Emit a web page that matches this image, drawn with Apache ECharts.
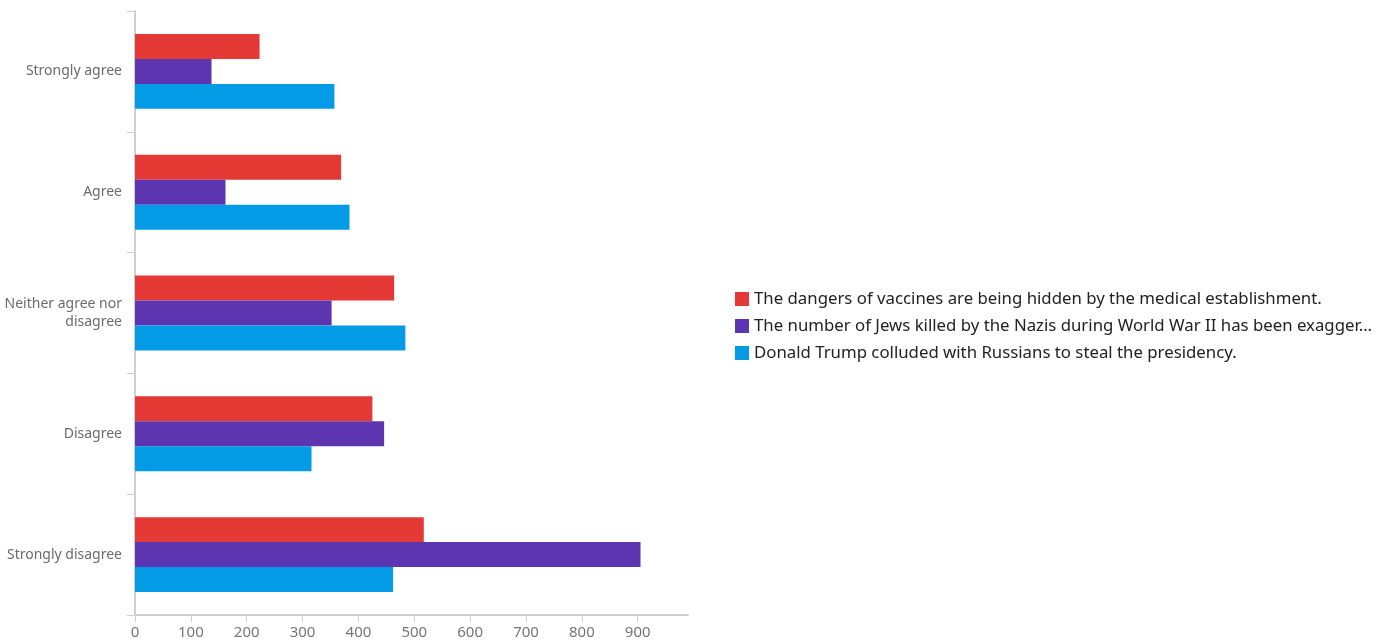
<!DOCTYPE html>
<html>
<head>
<meta charset="utf-8">
<script src="https://cdn.jsdelivr.net/npm/echarts@6/dist/echarts.min.js"></script>
<style>html,body{margin:0;padding:0;background:#fff}#c{width:1390px;height:644px}</style>
</head>
<body>
<div id="c"></div>
<script>
const categories = ["Strongly agree", "Agree", "Neither agree nor disagree", "Disagree", "Strongly disagree"];
const seriesNames = [
  "The dangers of vaccines are being hidden by the medical establishment.",
  "The number of Jews killed by the Nazis during World War II has been exagger…",
  "Donald Trump colluded with Russians to steal the presidency."
];
const vaccines = [223, 369, 464, 425, 517];
const holocaust = [137, 162, 352, 446, 905];
const trump = [357, 384, 484, 316, 462];
const colors = ["#E53935", "#5E35B1", "#039BE5"];

const chart = echarts.init(document.getElementById('c'));
const font = "'Noto Sans', sans-serif";
chart.setOption({
  animation: false,
  textStyle: { fontFamily: font },
  grid: { left: 135, top: 11, right: 702, bottom: 29, containLabel: false, outerBoundsMode: 'none' },
  legend: {
    orient: 'vertical', left: 730, top: 284,
    itemWidth: 14, itemHeight: 14, itemGap: 7,
    icon: 'rect',
    textStyle: { fontSize: 16.8, color: '#222', fontFamily: font, lineHeight: 20 },
    data: seriesNames
  },
  xAxis: {
    type: 'value', min: 0, max: 990, interval: 100,
    axisLine: { show: true, lineStyle: { color: '#cfcfcf', width: 2 } },
    axisTick: { show: true, length: 7, lineStyle: { color: '#cfcfcf' } },
    axisLabel: { showMaxLabel: false, color: '#757575', fontSize: 15, margin: 10, fontFamily: font },
    splitLine: { show: false }
  },
  yAxis: {
    type: 'category', inverse: true, data: categories,
    axisLine: { show: true, lineStyle: { color: '#cfcfcf', width: 2 } },
    axisTick: { show: true, length: 8, lineStyle: { color: '#cfcfcf' } },
    axisLabel: { color: '#6b6b6b', fontSize: 14, margin: 13, width: 120, overflow: 'break', lineHeight: 18, fontFamily: font }
  },
  series: [vaccines, holocaust, trump].map((d, i) => ({
    type: 'bar', name: seriesNames[i], data: d,
    itemStyle: { color: colors[i] },
    barGap: '0%', barCategoryGap: '38%'
  }))
});
</script>
</body>
</html>
